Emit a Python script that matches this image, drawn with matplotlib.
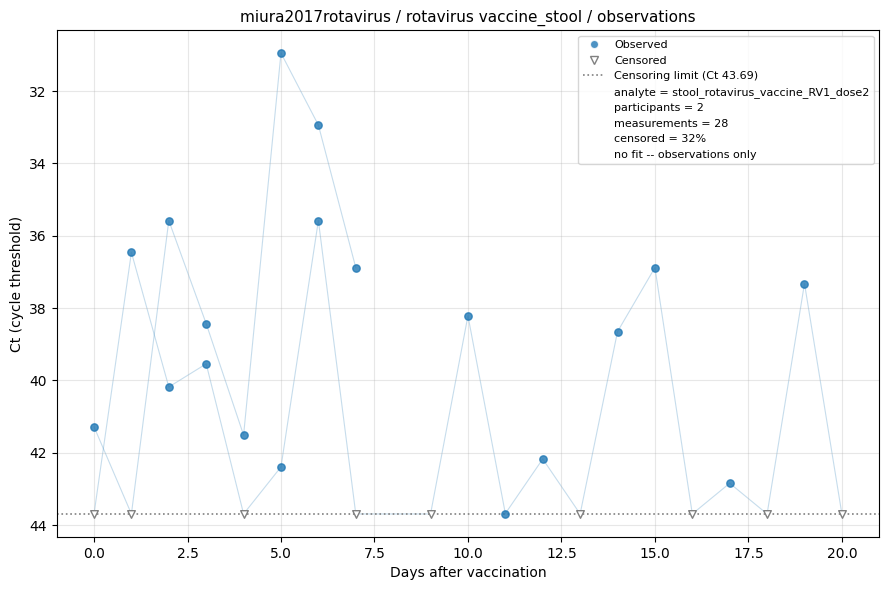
import numpy as np
import matplotlib
matplotlib.use("Agg")
import matplotlib.pyplot as plt
from matplotlib.lines import Line2D

LOD = 43.69

# participant 1
p1_days = [0, 1, 2, 3, 4, 5, 6, 7]
p1_ct = [41.28, 43.69, 35.58, 38.43, 41.51, 30.95, 32.94, 36.88]
p1_cens = [False, True, False, False, False, False, False, False]

# participant 2
p2_days = [0, 1, 2, 3, 4, 5, 6, 7, 9, 10, 11, 12, 13, 14, 15, 16, 17, 18, 19, 20]
p2_ct = [43.69, 36.46, 40.18, 39.54, 43.69, 42.39, 35.58, 43.69, 43.69, 38.21,
         43.68, 42.17, 43.69, 38.65, 36.88, 43.69, 42.84, 43.69, 37.32, 43.69]
p2_cens = [True, False, False, False, True, False, False, True, True, False,
           False, False, True, False, False, True, False, True, False, True]

participants = [(p1_days, p1_ct, p1_cens), (p2_days, p2_ct, p2_cens)]

fig, ax = plt.subplots(figsize=(8.89, 5.9), dpi=100)

for days, ct, cens in participants:
    days = np.array(days)
    ct = np.array(ct)
    cens = np.array(cens)
    ax.plot(days, ct, color="#1f77b4", alpha=0.25, linewidth=0.8, zorder=1)
    ax.scatter(days[~cens], ct[~cens], s=28, color="#1f77b4", alpha=0.8, zorder=3)
    ax.scatter(days[cens], ct[cens], s=30, marker="v", facecolors="white",
               edgecolors="gray", linewidths=1.0, zorder=3)

ax.axhline(LOD, color="gray", linestyle=":", linewidth=1.2, zorder=2)

ax.invert_yaxis()
ax.grid(True, alpha=0.3)
ax.set_xlabel("Days after vaccination")
ax.set_ylabel("Ct (cycle threshold)")
ax.set_title("miura2017rotavirus / rotavirus vaccine_stool / observations", fontsize=11)

handles = [
    Line2D([0], [0], marker="o", color="w", markerfacecolor="#1f77b4", alpha=0.8,
           markersize=6, label="Observed"),
    Line2D([0], [0], marker="v", color="w", markerfacecolor="white",
           markeredgecolor="gray", markersize=6, label="Censored"),
    Line2D([0], [0], color="gray", linestyle=":", linewidth=1.2,
           label=f"Censoring limit (Ct {LOD:.2f})"),
]
extra = [
    "analyte = stool_rotavirus_vaccine_RV1_dose2",
    "participants = 2",
    "measurements = 28",
    "censored = 32%",
    "no fit -- observations only",
]
for txt in extra:
    handles.append(Line2D([], [], linestyle="none", marker="none", label=txt))

ax.legend(handles=handles, loc="upper right", fontsize=8)

plt.tight_layout(pad=0.7)
plt.savefig("out.png")
